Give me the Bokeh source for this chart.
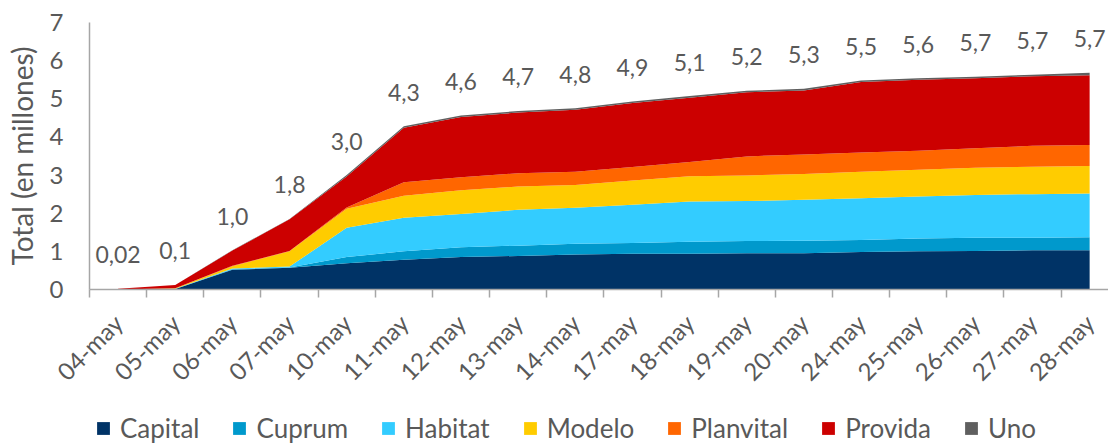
import math
from bokeh.plotting import figure
from bokeh.layouts import column
from bokeh.models import ColumnDataSource, FixedTicker, Legend, LegendItem
from bokeh.core.properties import value
from bokeh.embed import file_html
from bokeh.resources import INLINE

dates = ["04-may", "05-may", "06-may", "07-may", "10-may", "11-may", "12-may", "13-may", "14-may",
         "17-may", "18-may", "19-may", "20-may", "24-may", "25-may", "26-may", "27-may", "28-may"]
capital   = [0.00, 0.01, 0.52, 0.57, 0.69, 0.78, 0.85, 0.88, 0.92, 0.94, 0.94, 0.95, 0.95, 0.98, 1.00, 1.01, 1.03, 1.03]
cuprum    = [0.00, 0.00, 0.01, 0.01, 0.16, 0.22, 0.26, 0.27, 0.28, 0.28, 0.31, 0.32, 0.33, 0.32, 0.34, 0.35, 0.33, 0.34]
habitat   = [0.00, 0.01, 0.02, 0.02, 0.77, 0.88, 0.87, 0.94, 0.94, 1.00, 1.06, 1.05, 1.07, 1.09, 1.10, 1.12, 1.14, 1.15]
modelo    = [0.00, 0.01, 0.06, 0.40, 0.50, 0.58, 0.62, 0.61, 0.60, 0.64, 0.66, 0.67, 0.68, 0.70, 0.70, 0.71, 0.72, 0.72]
planvital = [0.00, 0.00, 0.01, 0.01, 0.03, 0.35, 0.34, 0.35, 0.35, 0.35, 0.37, 0.50, 0.51, 0.50, 0.50, 0.51, 0.55, 0.55]
provida   = [0.02, 0.09, 0.40, 0.83, 0.81, 1.43, 1.58, 1.59, 1.62, 1.68, 1.69, 1.68, 1.68, 1.85, 1.86, 1.84, 1.82, 1.83]
uno       = [0.00, 0.00, 0.01, 0.01, 0.04, 0.04, 0.04, 0.04, 0.04, 0.04, 0.04, 0.04, 0.04, 0.04, 0.04, 0.04, 0.04, 0.06]
total_labels = ["0,02", "0,1", "1,0", "1,8", "3,0", "4,3", "4,6", "4,7", "4,8", "4,9", "5,1", "5,2",
                "5,3", "5,5", "5,6", "5,7", "5,7", "5,7"]
y_ticks = [0, 1, 2, 3, 4, 5, 6, 7]

names = ["Capital", "Cuprum", "Habitat", "Modelo", "Planvital", "Provida", "Uno"]
series = [capital, cuprum, habitat, modelo, planvital, provida, uno]
colors = ["#003366", "#0099CC", "#33CCFF", "#FFCC00", "#FF6600", "#CC0000", "#5F5F5F"]

FONT = "Lato"
TXT = "#595959"
AX = "#A6A6A6"

x = list(range(len(dates)))
data = {"x": x}
for n, s in zip(names, series):
    data[n] = s
totals = [sum(v) for v in zip(*series)]
data["total"] = totals
data["label"] = total_labels
src = ColumnDataSource(data)

W = 1108
HP = 400
HL = 44
p = figure(width=W, height=HP, output_backend="svg", toolbar_location=None,
           x_range=(-0.5, 17.33), y_range=(0, 7),
           min_border_left=89, min_border_top=22, min_border_bottom=HP - 289, min_border_right=0)
p.outline_line_color = None
p.xgrid.visible = False
p.ygrid.visible = False
p.background_fill_color = "white"

p.varea_stack(stackers=names, x="x", color=colors, source=src)

p.text(x="x", y="total", text="label", source=src, text_align="center", text_baseline="middle",
       y_offset=-34, text_font=value(FONT), text_font_size="23px", text_color=TXT)

# axes
xa = p.xaxis[0]
xa.ticker = FixedTicker(ticks=x, minor_ticks=[i - 0.5 for i in range(len(dates) + 1)])
xa.major_label_overrides = {i: d for i, d in enumerate(dates)}
xa.major_label_orientation = math.pi / 4
xa.major_tick_line_color = None
xa.major_tick_out = 0
xa.major_tick_in = 0
xa.minor_tick_line_color = AX
xa.minor_tick_out = 8
xa.minor_tick_in = 0
xa.minor_tick_line_width = 1.5
xa.axis_line_color = AX
xa.axis_line_width = 1.5
xa.major_label_text_font = FONT
xa.major_label_text_font_size = "24px"
xa.major_label_text_color = TXT
xa.major_label_standoff = 21

ya = p.yaxis[0]
ya.ticker = FixedTicker(ticks=y_ticks)
ya.major_tick_line_color = None
ya.minor_tick_line_color = None
ya.major_tick_out = 0
ya.major_tick_in = 0
ya.axis_line_color = AX
ya.axis_line_width = 1.5
ya.major_label_text_font = FONT
ya.major_label_text_font_size = "24px"
ya.major_label_text_color = TXT
ya.major_label_standoff = 26
ya.axis_label = "Total (en millones)"
ya.axis_label_text_font = FONT
ya.axis_label_text_font_size = "28px"
ya.axis_label_text_font_style = "normal"
ya.axis_label_text_color = TXT
ya.axis_label_standoff = 8

# legend strip (separate figure directly below the chart)
pl = figure(width=W, height=HL, output_backend="svg", toolbar_location=None,
            x_axis_type=None, y_axis_type=None, x_range=(0, 1), y_range=(100, 101),
            min_border=0)
pl.outline_line_color = None
pl.xgrid.visible = False
pl.ygrid.visible = False
lrs = pl.varea_stack(stackers=names, x="x", color=colors, source=src)
items = [LegendItem(label=n, renderers=[r]) for n, r in zip(names, lrs)]
legend = Legend(items=items, orientation="horizontal", location=(6, 0),
                glyph_width=16, glyph_height=16, label_standoff=9, spacing=32,
                padding=0, margin=0, border_line_color=None, background_fill_alpha=0,
                label_text_font=FONT, label_text_font_size="26px", label_text_color=TXT)
pl.add_layout(legend, "center")

page = column(p, pl, spacing=0)
open("out.html", "w").write(file_html(page, INLINE))
